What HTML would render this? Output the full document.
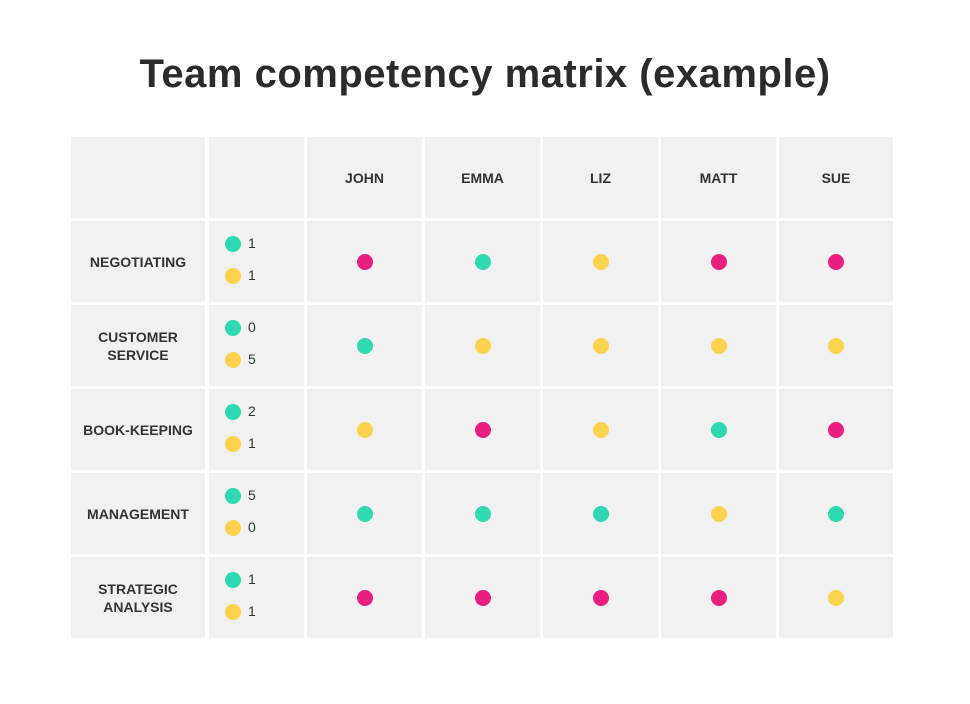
<!DOCTYPE html>
<html><head><meta charset="utf-8"><style>
body{margin:0;width:970px;height:704px;background:#fff;font-family:"Liberation Sans",sans-serif;position:relative;overflow:hidden}
h1{position:absolute;left:0;width:970px;top:52px;margin:0;text-align:center;font-size:40px;letter-spacing:0.5px;font-weight:bold;color:#2b2b2b}
.c{position:absolute;background:#f1f1f1;display:flex;align-items:center;justify-content:center;text-align:center;font-weight:bold;font-size:14px;color:#333;line-height:18px}
.d{position:absolute;width:16px;height:16px;border-radius:50%}
.n{position:absolute;font-size:14px;color:#333}
</style></head><body>
<h1>Team competency matrix (example)</h1>
<div id="g"></div>
<script>
const people=["JOHN","EMMA","LIZ","MATT","SUE"];
const skills=["NEGOTIATING","CUSTOMER<br>SERVICE","BOOK-KEEPING","MANAGEMENT","STRATEGIC<br>ANALYSIS"];
const tealCounts=[1,0,2,5,1];
const yellowCounts=[1,5,1,0,1];
const levels=[["p","g","y","p","p"],["g","y","y","y","y"],["y","p","y","g","p"],["g","g","g","y","g"],["p","p","p","p","y"]];
const colors={g:"#2dd8b3",y:"#fdd24e",p:"#e91e80"};
const xs=[71,209,307,425,543,661,779],ws=[134,95,115,115,115,115,114];
const y0=137,rh=81,gap=3;
const g=document.getElementById('g');
function cell(x,y,w,h,html,name){const e=document.createElement('div');e.className='c';e.style.cssText=`left:${x}px;top:${y}px;width:${w}px;height:${h}px`;e.innerHTML=html;


g.appendChild(e);return e;}
function dot(x,y,c,name){const d=document.createElement('div');d.className='d';d.style.left=(x-8)+'px';d.style.top=(y-8)+'px';d.style.background=c;


g.appendChild(d);}
function num(x,y,t,name){const d=document.createElement('div');d.className='n';d.style.left=x+'px';d.style.top=(y-9)+'px';d.textContent=t;


g.appendChild(d);}
for(let c=0;c<7;c++){cell(xs[c],y0,ws[c],rh,c>1?people[c-2]:'',c>1?'header-'+people[c-2].toLowerCase():'header-blank');}
for(let r=0;r<skills.length;r++){
 const y=y0+(r+1)*(rh+gap);
 for(let c=0;c<7;c++){cell(xs[c],y,ws[c],rh,c==0?skills[r]:'',c==0?'skill-label':'matrix-cell');}
 dot(233,y+23,colors.g,'teal-count-dot');num(248,y+23,tealCounts[r],'teal-count');
 dot(233,y+55,colors.y,'yellow-count-dot');num(248,y+55,yellowCounts[r],'yellow-count');
 for(let p=0;p<people.length;p++){dot(xs[p+2]+ws[p+2]/2,y+41,colors[levels[r][p]],'competency-dot');}
}
</script>
</body></html>
